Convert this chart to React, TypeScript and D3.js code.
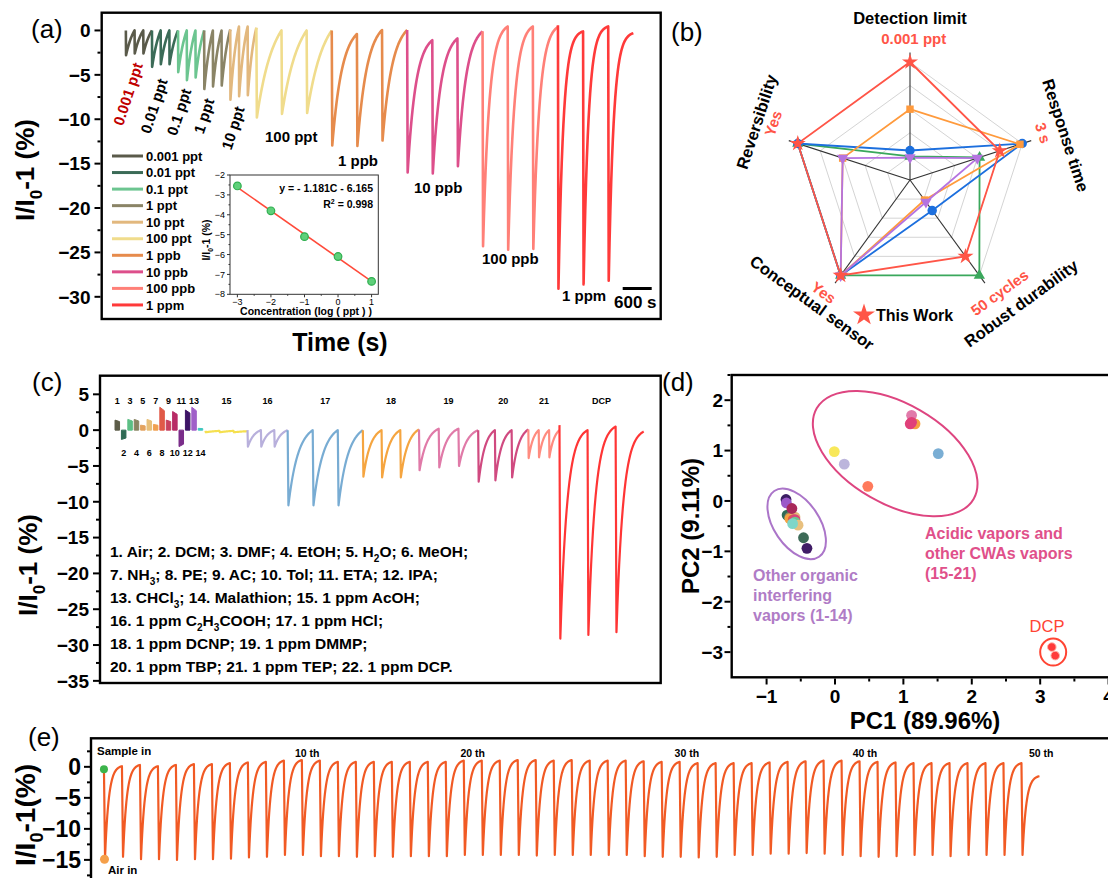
import React from "react";
import * as d3 from "d3";

const FONT = "'Liberation Sans', Arial, Helvetica, sans-serif";
const W = 1108;
const H = 878;

// ---------- (a) response to DCP at rising concentration ----------
const concLabels = ["0.001 ppt", "0.01 ppt", "0.1 ppt", "1 ppt", "10 ppt", "100 ppt", "1 ppb", "10 ppb", "100 ppb", "1 ppm"];
const concColors = ["#5a5a4a", "#3b6b57", "#6cc590", "#8a8466", "#e2b87e", "#f0dc8c", "#e68b4c", "#dd4f8b", "#ff8078", "#ff3a3a"];
const concPeriod = [180, 180, 180, 180, 180, 520, 520, 520, 520, 520]; // s per cycle
const concMin = [
  [-2.8, -2.6, -2.6],
  [-4.1, -3.8, -3.8],
  [-4.7, -5.6, -5.3],
  [-6.6, -6.3, -6.2],
  [-7.8, -7.4, -7.3],
  [-9.8, -9.4, -9.3],
  [-12.95, -13.0, -12.4],
  [-16.0, -16.1, -15.3],
  [-24.3, -24.7, -24.6],
  [-29.1, -28.6, -28.2],
];
const concPeak = [
  [0, 0, 0, 0],
  [0, 0, 0, 0],
  [0, 0, 0, 0],
  [0, 0, 0, 0.1],
  [0.1, 0.45, 0.45, 0.3],
  [0.3, 0, 0, 0],
  [0, -0.4, 0.05, 0.05],
  [0.05, -1.1, -0.9, -0.1],
  [-0.1, 0.45, 0.45, 0.4],
  [0.6, -0.1, 0.45, -0.3],
];
const concBend = [1, 1, 1, 1, 1.2, 1.5, 2.5, 3, 4, 5];
const concStart = 500;

// inset: calibration
const insetLogC = [-3, -2, -1, 0, 1];
const insetResp = [-2.55, -3.8, -5.1, -6.1, -7.35];
const fitSlope = -1.181;
const fitIntercept = -6.165;

// ---------- (b) radar comparison ----------
const radarAxes = ["Detection limit", "Response time", "Robust durability", "Conceptual sensor", "Reversibility"];
const radarNotes = ["0.001 ppt", "3 s", "50 cycles", "Yes", "Yes"];
const radarThisWork = [1.0, 0.8, 0.8, 1.0, 1.0];
const radarRefSquare = [0.6, 0.98, 0.21, 1.0, 0.6];
const radarRefCircle = [0.25, 1.0, 0.32, 1.0, 1.0];
const radarRefTriangle = [0.2, 0.62, 1.0, 1.0, 1.0];
const radarRefDown = [0.19, 0.6, 0.23, 1.0, 0.6];
const radarRings = [0.2, 0.4, 0.6, 0.8, 1.0];

// ---------- (c) selectivity ----------
const vaporBlockHeights = [1.4, -1.3, 1.5, 1.5, 0.7, 1.5, 0.8, 3.2, 1.4, 2.6, -2.3, 2.8, 3.2, 0.25];
const vaporBlockColors = ["#5c5c48", "#2f6b55", "#5cbf85", "#8a8462", "#e3a25e", "#e8c07a", "#f0a050", "#e05a48", "#c8405e", "#b82c66", "#7a2d8a", "#3d1466", "#a060c8", "#40c8c0"];
const gasLabels = ["15", "16", "17", "18", "19", "20", "21", "DCP"];
const gasColors = ["#f5e050", "#b8b0dc", "#78acd3", "#f5a540", "#e07aa8", "#d04a80", "#ff8c80", "#ff3535"];
const gasPeriod = [290, 276, 517, 386, 407, 345, 214, 579];
const gasMin = [
  [-0.3, -0.3, -0.3],
  [-2.3, -2.3, -2.3],
  [-10.5, -10.5, -10.5],
  [-6.5, -6.6, -6.6],
  [-5.6, -5.2, -5.0],
  [-7.2, -7.0, -6.6],
  [-3.9, -3.8, -3.8],
  [-29.1, -28.6, -28.2],
];
const gasPeak = [
  [-0.1, -0.1, -0.1, -0.15],
  [0, 0, 0, 0],
  [0, 0, 0, 0],
  [0, 0, 0, 0.1],
  [0.1, 0.2, 0.2, 0],
  [0, 0, 0, 0.1],
  [0.1, 0, 0, 0],
  [0.7, 0, 0.5, -0.2],
];
const gasBend = [1, 2, 2.5, 2.5, 2.5, 2.5, 2, 4];
const vaporKey = [
  "1. Air; 2. DCM; 3. DMF; 4. EtOH; 5. H_2O; 6. MeOH;",
  "7. NH_3; 8. PE; 9. AC; 10. Tol; 11. ETA; 12. IPA;",
  "13. CHCl_3; 14. Malathion; 15. 1 ppm AcOH;",
  "16. 1 ppm C_2H_3COOH; 17. 1 ppm HCl;",
  "18. 1 ppm DCNP; 19. 1 ppm DMMP;",
  "20. 1 ppm TBP; 21. 1 ppm TEP; 22. 1 ppm DCP.",
];

// ---------- (d) PCA ----------
const orgPC1 = [-0.7, -0.66, -0.66, -0.585, -0.61, -0.585, -0.585, -0.54, -0.716, -0.71, -0.63, -0.62, -0.46, -0.41];
const orgPC2 = [-0.28, -0.32, -0.35, -0.32, -0.37, -0.37, -0.42, -0.48, 0.03, -0.04, -0.15, -0.45, -0.73, -0.94];
const orgColors = ["#2e6b57", "#8a8462", "#f5a142", "#e3b778", "#e35a48", "#d9467a", "#6cc58f", "#e8c07e", "#3b1d63", "#9b59c9", "#a8285a", "#7fd6c8", "#3d6b58", "#401c66"];
const acidPC1 = [-0.01, 0.136, 0.48, 1.12, 1.17, 1.1, 1.12, 1.51];
const acidPC2 = [0.98, 0.73, 0.29, 1.7, 1.53, 1.53, 1.56, 0.94];
const acidColors = ["#f8e85a", "#bcb5dc", "#ff7a5c", "#e17aaa", "#f5a142", "#e0407a", "#e0407a", "#7aaed4"];
const dcpPC1 = [3.17, 3.22];
const dcpPC2 = [-2.9, -3.07];

// ---------- (e) 50-cycle durability ----------
const cycleMin = [
  -14.6, -14.5, -14.9, -14.9, -15.0, -14.9, -14.9, -14.8, -14.6, -14.5,
  -14.2, -14.2, -14.4, -14.4, -14.5, -14.4, -14.5, -14.4, -14.4, -14.4,
  -14.2, -14.2, -14.2, -14.2, -14.3, -14.2, -14.2, -14.2, -14.2, -14.2,
  -14.4, -14.5, -14.5, -14.6, -14.5, -14.2, -14.2, -14.0, -14.0, -13.9,
  -14.0, -14.2, -14.4, -14.5, -14.4, -14.2, -14.2, -14.4, -14.2, -14.2,
  -14.2, -14.2,
];
const cyclePeak = [
  -0.4,
  0.1, 0.3, 0.1, 0.3, 0.45, 0.45, 0.6, 0.7, 0.8, 1.0,
  1.1, 1.0, 0.8, 0.8, 0.8, 0.8, 0.8, 0.8, 0.8, 1.0,
  1.0, 1.0, 1.1, 1.1, 1.0, 1.1, 1.0, 1.0, 1.0, 0.9,
  0.8, 0.8, 0.6, 0.6, 0.6, 0.6, 0.7, 0.8, 0.9, 1.0,
  1.0, 0.9, 0.8, 0.7, 0.6, 0.6, 0.6, 0.6, 0.6, 0.6,
  0.6, -1.5,
];
const cycleMarks = ["10 th", "20 th", "30 th", "40 th", "50 th"];
const cycleMarkAt = [11.3, 20.5, 32.4, 42.3, 52.1];

// ---------- helpers ----------
type P = [number, number];

function cycleTrace(t0: number, period: number, peaks: number[], mins: number[], bend: number, drop = 0.025): P[] {
  const pts: P[] = [];
  const norm = 1 - Math.exp(-bend);
  mins.forEach((m, i) => {
    const ts = t0 + i * period;
    const end = peaks[i + 1];
    pts.push([ts, peaks[i]]);
    const td = ts + drop * period;
    pts.push([td, m]);
    for (let j = 1; j <= 30; j++) {
      const s = j / 30;
      const f = (1 - Math.exp(-bend * s)) / norm;
      pts.push([td + s * (1 - drop) * period, m + (end - m) * f]);
    }
  });
  return pts;
}

function subParts(str: string): [string, boolean][] {
  const out: [string, boolean][] = [];
  const re = /_(\d)/g;
  let last = 0;
  let m: RegExpExecArray | null;
  while ((m = re.exec(str))) {
    if (m.index > last) out.push([str.slice(last, m.index), false]);
    out.push([m[1], true]);
    last = m.index + m[0].length;
  }
  if (last < str.length) out.push([str.slice(last), false]);
  return out;
}

function Rich({ str, fontSize, ...rest }: any) {
  const parts = subParts(str);
  const shift = fontSize * 0.3;
  let prev = false;
  return (
    <text fontSize={fontSize} {...rest}>
      {parts.map(([s, sub], i) => {
        let dy = 0;
        if (sub && !prev) dy = shift;
        if (!sub && prev) dy = -shift;
        prev = sub;
        return (
          <tspan key={i} dy={dy || undefined} fontSize={sub ? fontSize * 0.65 : undefined}>
            {s}
          </tspan>
        );
      })}
    </text>
  );
}

const fmt = d3.format("");

function YTicks({ scale, x, major, minor, fs = 19, len = 6, gap = 4 }: any) {
  return (
    <g>
      {major.map((v: number) => (
        <g key={"M" + v}>
          <line x1={x - len} x2={x} y1={scale(v)} y2={scale(v)} stroke="#000" strokeWidth={2} />
          <text x={x - len - gap} y={scale(v)} dy="0.36em" textAnchor="end" fontSize={fs} fontWeight="bold">
            {fmt(v)}
          </text>
        </g>
      ))}
      {minor.map((v: number) => (
        <line key={"m" + v} x1={x - len / 2} x2={x} y1={scale(v)} y2={scale(v)} stroke="#000" strokeWidth={2} />
      ))}
    </g>
  );
}

function YTitle({ x, y, str, fs }: any) {
  return <Rich str={str} fontSize={fs} fontWeight="bold" textAnchor="middle" transform={`translate(${x},${y}) rotate(-90)`} />;
}

// ---------- panel (a) ----------
function PanelA() {
  const xA = d3.scaleLinear().domain([0, 11566]).range([101.7, 660.7]);
  const yA = d3.scaleLinear().domain([2, -32.5]).range([12.7, 319]);
  const line = d3.line<P>().x((d) => xA(d[0])).y((d) => yA(d[1]));
  let t = concStart;
  const traces = concLabels.map((_, g) => {
    const pts = cycleTrace(t, concPeriod[g], concPeak[g], concMin[g], concBend[g], 0.02);
    t += concPeriod[g] * concMin[g].length;
    return pts;
  });
  const major = d3.range(0, -31, -5);
  const minor = d3.range(-2.5, -32, -5);

  const xIn = d3.scaleLinear().domain([-3.22, 1.2]).range([230, 378.3]);
  const yIn = d3.scaleLinear().domain([-2, -8]).range([175, 294.3]);
  const fitLine = d3.line<number>().x((c) => xIn(c)).y((c) => yIn(fitSlope * c + fitIntercept));

  const rotLabels = [
    { s: "0.001 ppt", x: 128, y: 94, c: "#c00000" },
    { s: "0.01 ppt", x: 154, y: 106, c: "#000" },
    { s: "0.1 ppt", x: 179, y: 112, c: "#000" },
    { s: "1 ppt", x: 204, y: 116, c: "#000" },
    { s: "10 ppt", x: 233, y: 128, c: "#000" },
  ];
  const flatLabels = [
    { s: "100 ppt", x: 265, y: 142 },
    { s: "1 ppb", x: 338, y: 166 },
    { s: "10 ppb", x: 414, y: 193 },
    { s: "100 ppb", x: 482, y: 264 },
    { s: "1 ppm", x: 562, y: 301 },
  ];

  return (
    <g>
      <text x={31} y={38} fontSize={26}>(a)</text>
      <rect x={101.7} y={12.7} width={559} height={306.3} fill="none" stroke="#000" strokeWidth={2.4} />
      <YTicks scale={yA} x={100.5} major={major} minor={minor} />
      <YTitle x={34} y={170} str="I/I_0-1 (%)" fs={26} />
      <text x={340} y={351} fontSize={25} fontWeight="bold" textAnchor="middle">Time (s)</text>
      {traces.map((pts, g) => (
        <path key={g} d={line(pts) || ""} fill="none" stroke={concColors[g]} strokeWidth={2.6} strokeLinejoin="round" />
      ))}
      {rotLabels.map((l) => (
        <text key={l.s} transform={`translate(${l.x},${l.y}) rotate(-72)`} textAnchor="middle" dy="0.35em" fontSize={15} fontWeight="bold" fill={l.c}>
          {l.s}
        </text>
      ))}
      {flatLabels.map((l) => (
        <text key={l.s} x={l.x} y={l.y} fontSize={15} fontWeight="bold">{l.s}</text>
      ))}
      <line x1={622.7} x2={622.7 + xA(600) - xA(0)} y1={288.5} y2={288.5} stroke="#000" strokeWidth={3} />
      <text x={614} y={308} fontSize={17} fontWeight="bold">600 s</text>
      {concLabels.map((l, i) => (
        <g key={l}>
          <line x1={112} x2={143} y1={156 + i * 16.55} y2={156 + i * 16.55} stroke={concColors[i]} strokeWidth={3} />
          <text x={146} y={156 + i * 16.55} dy="0.36em" fontSize={13} fontWeight="bold">{l}</text>
        </g>
      ))}
      {/* inset */}
      <rect x={230} y={175} width={148.3} height={119.3} fill="#fff" stroke="#333" strokeWidth={1} />
      {d3.range(-2, -8.5, -1).map((v) => (
        <g key={v}>
          <line x1={227} x2={230} y1={yIn(v)} y2={yIn(v)} stroke="#333" />
          <text x={225} y={yIn(v)} dy="0.35em" textAnchor="end" fontSize={9}>{fmt(v)}</text>
        </g>
      ))}
      {d3.range(-2.5, -8, -1).map((v) => (
        <line key={v} x1={228.5} x2={230} y1={yIn(v)} y2={yIn(v)} stroke="#333" />
      ))}
      {d3.range(-3, 1.5, 1).map((v) => (
        <g key={v}>
          <line x1={xIn(v)} x2={xIn(v)} y1={294.3} y2={297.3} stroke="#333" />
          <text x={xIn(v)} y={305} textAnchor="middle" fontSize={9}>{fmt(v)}</text>
        </g>
      ))}
      {d3.range(-2.5, 1, 1).map((v) => (
        <line key={v} x1={xIn(v)} x2={xIn(v)} y1={294.3} y2={295.8} stroke="#333" />
      ))}
      <path d={fitLine([-3, 1]) || ""} stroke="#ff4a3a" strokeWidth={1.6} fill="none" />
      {insetLogC.map((c, i) => (
        <circle key={c} cx={xIn(c)} cy={yIn(insetResp[i])} r={3.8} fill="#5fd07a" stroke="#2fae4f" strokeWidth={1.2} />
      ))}
      <text x={373} y={192} textAnchor="end" fontSize={10.5} fontWeight="bold">y = - 1.181C - 6.165</text>
      <text x={373} y={208} textAnchor="end" fontSize={10.5} fontWeight="bold">
        R<tspan dy={-4} fontSize={7}>2</tspan><tspan dy={4}> = 0.998</tspan>
      </text>
      <YTitle x={210} y={240} str="I/I_0-1 (%)" fs={10.5} />
      <text x={306} y={315} textAnchor="middle" fontSize={10.5} fontWeight="bold">Concentration (log ( ppt ) )</text>
    </g>
  );
}

// ---------- panel (b) ----------
function PanelB() {
  const cx = 910;
  const cy = 180;
  const r = d3.scaleLinear().domain([0, 1]).range([0, 118]);
  const ang = (i: number) => ((-90 + 72 * i) * Math.PI) / 180;
  const pt = (i: number, v: number): P => [cx + r(v) * Math.cos(ang(i)), cy + r(v) * Math.sin(ang(i))];
  const closed = d3.line<P>().curve(d3.curveLinearClosed);
  const series = [
    { v: radarRefTriangle, c: "#3aa85c", sym: d3.symbolTriangle, rot: 0, size: 55 },
    { v: radarRefCircle, c: "#1c6fde", sym: d3.symbolCircle, rot: 0, size: 70 },
    { v: radarRefSquare, c: "#ff9a3c", sym: d3.symbolSquare, rot: 0, size: 55 },
    { v: radarRefDown, c: "#b573e0", sym: d3.symbolTriangle, rot: 180, size: 55 },
    { v: radarThisWork, c: "#ff5547", sym: d3.symbolStar, rot: 0, size: 80 },
  ];
  const labR = [162, 162, 166, 157, 164];
  const labOff = [0, 2, -6, 2.6, 2.8];
  const noteR = [141, 141, 144, 142, 148];
  const noteOff = [1.5, -1.5, -2.5, 1.5, 4.5];
  const rotFor = (i: number) => {
    let a = -90 + 72 * i + 90;
    while (a > 180) a -= 360;
    if (a > 90) a -= 180;
    if (a < -90) a += 180;
    return a;
  };
  const polar = (deg: number, rad: number): P => [cx + rad * Math.cos((deg * Math.PI) / 180), cy + rad * Math.sin((deg * Math.PI) / 180)];
  return (
    <g>
      <text x={671} y={41} fontSize={26}>(b)</text>
      {radarRings.map((lv) => (
        <path key={lv} d={closed(radarAxes.map((_, i) => pt(i, lv))) || ""} fill="none" stroke="#d4d4d4" strokeWidth={1} />
      ))}
      {radarAxes.map((_, i) => {
        const [x, y] = pt(i, 1.08);
        return <line key={i} x1={cx} y1={cy} x2={x} y2={y} stroke="#333" strokeWidth={1.1} />;
      })}
      {series.map((s, k) => (
        <path key={k} d={closed(s.v.map((v, i) => pt(i, v))) || ""} fill="none" stroke={s.c} strokeWidth={1.8} />
      ))}
      {series.map((s, k) =>
        s.v.map((v, i) => {
          const [x, y] = pt(i, v);
          return <path key={k + "-" + i} d={d3.symbol(s.sym, s.size)() || ""} transform={`translate(${x},${y}) rotate(${s.rot})`} fill={s.c} />;
        })
      )}
      {radarAxes.map((a, i) => {
        const deg = -90 + 72 * i;
        const [lx, ly] = polar(deg + labOff[i], labR[i]);
        const [nx, ny] = polar(deg + noteOff[i], noteR[i]);
        const rot = rotFor(i);
        return (
          <g key={a}>
            <text transform={`translate(${lx},${ly}) rotate(${rot})`} textAnchor="middle" dy="0.35em" fontSize={16.5} fontWeight="bold">{a}</text>
            <text transform={`translate(${nx},${ny}) rotate(${rot})`} textAnchor="middle" dy="0.35em" fontSize={15} fontWeight="bold" fill="#ff5547">{radarNotes[i]}</text>
          </g>
        );
      })}
      <path d={d3.symbol(d3.symbolStar, 150)() || ""} transform="translate(864,315)" fill="#ff5547" />
      <text x={876} y={321} fontSize={16} fontWeight="bold">This Work</text>
    </g>
  );
}

// ---------- panel (c) ----------
function PanelC() {
  const xC = d3.scaleLinear().domain([0, 11566]).range([100, 660.7]);
  const yC = d3.scaleLinear().domain([7.6, -35.3]).range([375.7, 683]);
  const line = d3.line<P>().x((d) => xC(d[0])).y((d) => yC(d[1]));
  const blockStart = 310;
  const blockStep = 132;
  const blockOn = 93;
  let t = 2173;
  const traces = gasLabels.map((_, g) => {
    const t0 = t;
    const pts = cycleTrace(t, gasPeriod[g], gasPeak[g], gasMin[g], gasBend[g], 0.03);
    t += gasPeriod[g] * gasMin[g].length;
    return { pts, mid: (t0 + t) / 2 };
  });
  return (
    <g>
      <text x={32} y={391} fontSize={26}>(c)</text>
      <rect x={100} y={375.7} width={560.7} height={307.3} fill="none" stroke="#000" strokeWidth={2.4} />
      <YTicks scale={yC} x={99} major={d3.range(5, -36, -5)} minor={d3.range(2.5, -35, -5)} />
      <YTitle x={37} y={565} str="I/I_0-1 (%)" fs={26} />
      {vaporBlockHeights.map((h, i) => {
        const a = blockStart + i * blockStep;
        const b = a + blockOn;
        const d = `M${xC(a)},${yC(0)}L${xC(a)},${yC(h)}L${xC(b)},${yC(h * 0.85)}L${xC(b)},${yC(0)}Z`;
        const above = i % 2 === 0;
        return (
          <g key={i}>
            <path d={d} fill={vaporBlockColors[i]} stroke={vaporBlockColors[i]} strokeWidth={1} />
            <text x={xC((a + b) / 2)} y={above ? 404 : 456} textAnchor="middle" fontSize={9} fontWeight="bold">{i + 1}</text>
          </g>
        );
      })}
      {traces.map((tr, g) => (
        <g key={g}>
          <path d={line(tr.pts) || ""} fill="none" stroke={gasColors[g]} strokeWidth={2.2} strokeLinejoin="round" />
          <text x={xC(tr.mid)} y={404} textAnchor="middle" fontSize={9} fontWeight="bold">{gasLabels[g]}</text>
        </g>
      ))}
      {vaporKey.map((s, i) => (
        <Rich key={i} str={s} x={110} y={557 + i * 23} fontSize={15.5} fontWeight="bold" />
      ))}
    </g>
  );
}

// ---------- panel (d) ----------
function PanelD() {
  const xD = d3.scaleLinear().domain([-1.51, 4.05]).range([731.7, 1112]);
  const yD = d3.scaleLinear().domain([2.5, -3.5]).range([375, 677.3]);
  const ell = (cxv: number, cyv: number, a: number, b: number, rot: number, c: string) => (
    <ellipse cx={0} cy={0} rx={a} ry={b} transform={`translate(${xD(cxv)},${yD(cyv)}) rotate(${rot})`} fill="none" stroke={c} strokeWidth={2} />
  );
  return (
    <g>
      <text x={662} y={391} fontSize={26}>(d)</text>
      <rect x={731.7} y={375} width={380.3} height={302.3} fill="none" stroke="#000" strokeWidth={2.4} />
      <YTicks scale={yD} x={730.5} major={d3.range(-3, 2.5, 1)} minor={d3.range(-2.5, 2.6, 1)} gap={1.5} />
      {d3.range(-1, 4.5, 1).map((v) => (
        <g key={v}>
          <line x1={xD(v)} x2={xD(v)} y1={678.5} y2={684.5} stroke="#000" strokeWidth={2} />
          <text x={xD(v)} y={703} textAnchor="middle" fontSize={19} fontWeight="bold">{fmt(v)}</text>
        </g>
      ))}
      {d3.range(-0.5, 4, 1).map((v) => (
        <line key={v} x1={xD(v)} x2={xD(v)} y1={678.5} y2={681.5} stroke="#000" strokeWidth={2} />
      ))}
      <YTitle x={699} y={526} str="PC2 (9.11%)" fs={24} />
      <text x={925} y={729} textAnchor="middle" fontSize={24} fontWeight="bold">PC1 (89.96%)</text>
      {ell(0.88, 0.94, 90.6, 50, 30, "#de4580")}
      {ell(-0.56, -0.455, 39.8, 22.7, 55.7, "#ab75c9")}
      {ell(3.19, -3.0, 13, 13.5, 0, "#ff4433")}
      {orgPC1.map((x, i) => (
        <circle key={"o" + i} cx={xD(x)} cy={yD(orgPC2[i])} r={5.4} fill={orgColors[i]} />
      ))}
      {acidPC1.map((x, i) => (
        <circle key={"a" + i} cx={xD(x)} cy={yD(acidPC2[i])} r={5.4} fill={acidColors[i]} />
      ))}
      {dcpPC1.map((x, i) => (
        <circle key={"d" + i} cx={xD(x)} cy={yD(dcpPC2[i])} r={4.3} fill="#ff3b3b" stroke="#ffb3a8" strokeWidth={1} />
      ))}
      <text x={1047} y={632} textAnchor="middle" fontSize={16.5} fill="#ff4433">DCP</text>
      {["Acidic vapors and", "other CWAs vapors", "(15-21)"].map((s, i) => (
        <text key={s} x={925} y={539 + i * 20} fontSize={16} fontWeight="bold" fill="#e0508a">{s}</text>
      ))}
      {["Other organic", "interfering", "vapors (1-14)"].map((s, i) => (
        <text key={s} x={753} y={581 + i * 20} fontSize={16} fontWeight="bold" fill="#b07cc6">{s}</text>
      ))}
    </g>
  );
}

// ---------- panel (e) ----------
function PanelE() {
  const xE = d3.scaleLinear().domain([-0.72, 56.2]).range([91, 1115]);
  const yE = d3.scaleLinear().domain([4.6, -20]).range([738.3, 890.9]);
  const line = d3.line<P>().x((d) => xE(d[0])).y((d) => yE(d[1]));
  const pts = cycleTrace(0, 1, cyclePeak, cycleMin, 4.5, 0.06);
  return (
    <g>
      <text x={28} y={746} fontSize={26}>(e)</text>
      <rect x={91} y={738.3} width={1030} height={160} fill="none" stroke="#000" strokeWidth={2.4} />
      <YTicks scale={yE} x={90} major={d3.range(0, -16, -5)} minor={d3.range(2.5, -18, -5)} fs={23} gap={3} />
      <YTitle x={35} y={815} str="I/I_0-1(%)" fs={28} />
      <path d={line(pts) || ""} fill="none" stroke="#f15a24" strokeWidth={2.2} strokeLinejoin="round" />
      <circle cx={xE(0)} cy={yE(cyclePeak[0])} r={4} fill="#3cb44b" />
      <circle cx={xE(0.03)} cy={yE(-14.9)} r={4.5} fill="#f5a04a" />
      <text x={97} y={755} fontSize={11.5} fontWeight="bold">Sample in</text>
      <text x={108} y={874} fontSize={11.5} fontWeight="bold">Air in</text>
      {cycleMarks.map((s, i) => (
        <text key={s} x={xE(cycleMarkAt[i])} y={757} textAnchor="middle" fontSize={10.5} fontWeight="bold">{s}</text>
      ))}
    </g>
  );
}

export default function App() {
  return (
    <svg width={W} height={H} style={{ position: "absolute", left: 0, top: 0, background: "#fff" }} fontFamily={FONT}>
      <rect width={W} height={H} fill="#fff" />
      <PanelA />
      <PanelB />
      <PanelC />
      <PanelD />
      <PanelE />
    </svg>
  );
}
